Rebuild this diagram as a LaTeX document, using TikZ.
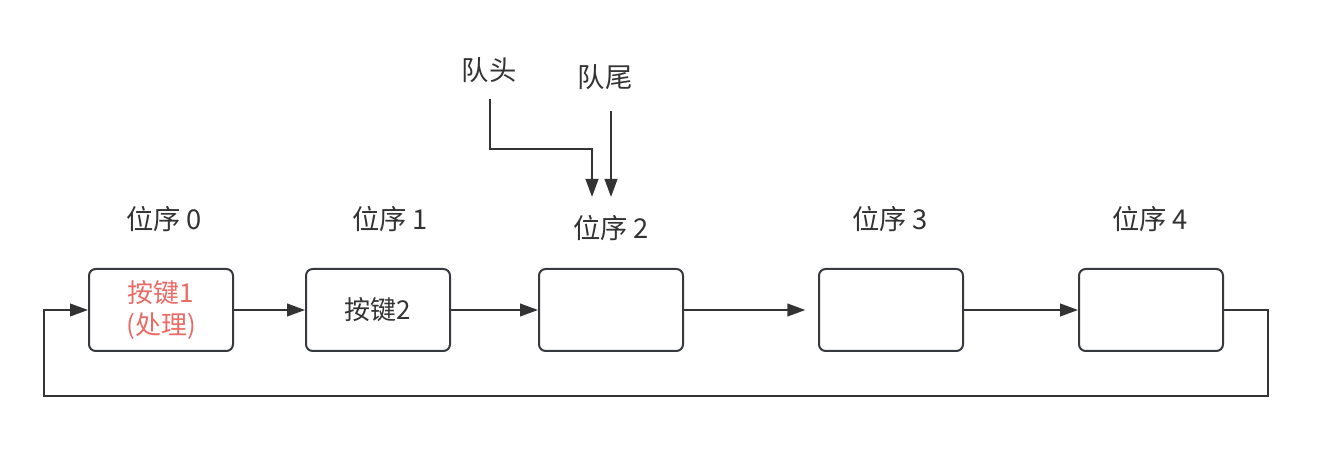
\documentclass[tikz,border=0pt]{standalone}
\usepackage{fontspec}
\setmainfont{Noto Sans CJK SC}
\usetikzlibrary{arrows.meta}
\definecolor{ln}{HTML}{333333}
\definecolor{bd}{HTML}{36393D}
\definecolor{rd}{HTML}{EA6B66}
\begin{document}
\begin{tikzpicture}[x=0.75pt,y=-0.75pt,
  box/.style={draw=bd,line width=1.5pt,rounded corners=5pt,minimum width=108pt,minimum height=61.5pt,inner sep=0pt,align=center,font=\fontsize{19.5pt}{24pt}\selectfont,text=ln},
  lbl/.style={font=\fontsize{20.5pt}{24pt}\selectfont,text=ln,inner sep=0pt},
  conn/.style={draw=ln,line width=1.5pt,-{Triangle[length=13.5pt,width=9.5pt]}},
  wire/.style={draw=ln,line width=1.5pt}]
\useasboundingbox (0,0) rectangle (1339,466);
\node[box] (b0) at (161,310) {\textcolor{rd}{按键1}\\\textcolor{rd}{(处理)}};
\node[box] (b1) at (378,310) {按键2};
\node[box] (b2) at (611,310) {};
\node[box] (b3) at (891,310) {};
\node[box] (b4) at (1151,310) {};
\node[lbl] (p0) at (164,219) {位序 0};
\node[lbl] (p1) at (390,219) {位序 1};
\node[lbl] (p2) at (611,228) {位序 2};
\node[lbl] (p3) at (890,219) {位序 3};
\node[lbl] (p4) at (1150,219) {位序 4};
\node[lbl] (head) at (489,70) {队头};
\node[lbl] (tail) at (605,77) {队尾};
\coordinate (h0) at (490,99);
\coordinate (h1) at (592,197);
\coordinate (t0) at (611,111);
\coordinate (t1) at (611,197);
\coordinate (r1) at (1268,310);
\coordinate (r2) at (44,396);
\draw[conn] (h0) |- (592,149) -- (h1);
\draw[conn] (t0) -- (t1);
\draw[conn] (b0.east) -- (b1.west);
\draw[conn] (b1.east) -- (b2.west);
\draw[conn,shorten >=9.5pt] (b2.east) -- (b3.west);
\draw[conn] (b3.east) -- (b4.west);
\draw[conn] (b4.east) -- (r1) |- (r2) |- (b0.west);
\end{tikzpicture}
\end{document}
